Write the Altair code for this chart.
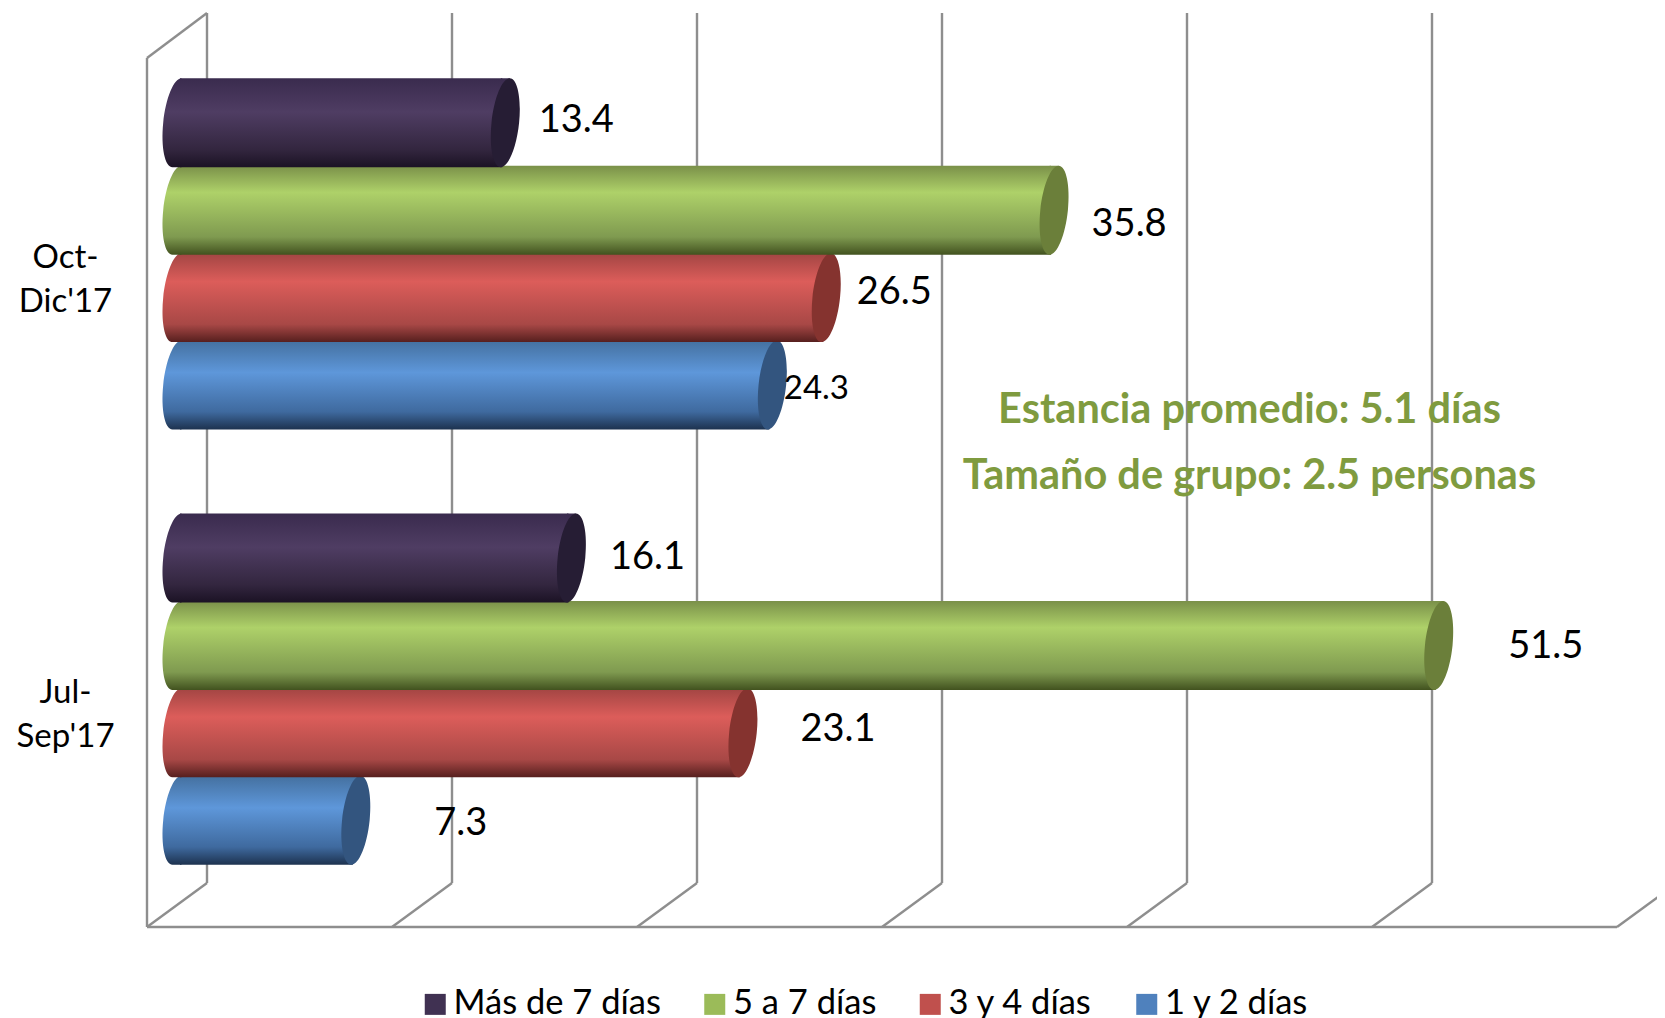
import altair as alt
import pandas as pd

PERIODS = ["Oct-Dic'17", "Jul-Sep'17"]
SERIES = ["Más de 7 días", "5 a 7 días", "3 y 4 días", "1 y 2 días"]
MAS_7 = [13.4, 16.1]
DE_5_A_7 = [35.8, 51.5]
DE_3_Y_4 = [26.5, 23.1]
DE_1_Y_2 = [24.3, 7.3]
TICKS = [0, 10, 20, 30, 40, 50, 60]
NOTES = ["Estancia promedio: 5.1 días", "Tamaño de grupo: 2.5 personas"]

LEGEND_COLORS = ["#403152", "#9bbb59", "#c0504d", "#4f81bd"]
CAP_COLORS = ["#261d34", "#6b7f3a", "#85332f", "#33557f"]
STOPS = [
    [(0, "#3a2b4e"), (0.38, "#4f3d63"), (0.8, "#33263f"), (1, "#1b1224")],
    [(0, "#7a9049"), (0.3, "#aed169"), (0.8, "#7f9a50"), (1, "#42521f")],
    [(0, "#a24543"), (0.32, "#dc5d5a"), (0.8, "#a84846"), (1, "#561f1e")],
    [(0, "#44709f"), (0.36, "#5e97da"), (0.8, "#3f6a9f"), (1, "#1d324f")],
]

# nudges of the value labels (dx, dy, font size), per period and series
LABEL_LAYOUT = {
    ("Oct-Dic'17", "Más de 7 días"): (71, -2, 38),
    ("Oct-Dic'17", "5 a 7 días"): (75, 15, 38),
    ("Oct-Dic'17", "3 y 4 días"): (68, -5, 38),
    ("Oct-Dic'17", "1 y 2 días"): (44, 4, 33),
    ("Jul-Sep'17", "Más de 7 días"): (76, 0, 38),
    ("Jul-Sep'17", "5 a 7 días"): (107, 2, 38),
    ("Jul-Sep'17", "3 y 4 días"): (95, -3, 38),
    ("Jul-Sep'17", "1 y 2 días"): (105, 4, 38),
}

FONT = "Lato"
GRID = "#8e8e8e"
BAR_H = 89
DEPTH = 30
SHEAR_PX = 4.5
SEAM_PX = 1.5

rows = []
for s, vals in zip(SERIES, [MAS_7, DE_5_A_7, DE_3_Y_4, DE_1_Y_2]):
    for p, v in zip(PERIODS, vals):
        rows.append({"period": p, "series": s, "value": v, "zero": 0})
df = pd.DataFrame(rows)
ticks_df = pd.DataFrame({"tick": TICKS})


def shape_paths():
    a, s, k = 0.31, SHEAR_PX / (BAR_H / 2), 0.5523

    def pt(u, v):
        return f"{a * u - s * v:.4f} {v:.4f}"

    ellipse = (
        f"M{pt(0, -1)}C{pt(k, -1)} {pt(1, -k)} {pt(1, 0)}"
        f"C{pt(1, k)} {pt(k, 1)} {pt(0, 1)}"
        f"C{pt(-k, 1)} {pt(-1, k)} {pt(-1, 0)}"
        f"C{pt(-1, -k)} {pt(-k, -1)} {pt(0, -1)}Z"
    )
    left = (
        f"M{pt(0, -1)}C{pt(-k, -1)} {pt(-1, -k)} {pt(-1, 0)}"
        f"C{pt(-1, k)} {pt(-k, 1)} {pt(0, 1)}"
        f"L{s:.4f} 1L{s:.4f} -1Z"
    )
    wedge = f"M{-s:.4f} -1L{s:.4f} -1L{-s:.4f} 1Z"
    return ellipse, left, wedge


ELLIPSE, LEFT_END, WEDGE = shape_paths()

PLOT_W = 1480
X_SCALE = alt.Scale(domain=[0, PLOT_W / 24.5], nice=False, zero=False)
Y_ENC = alt.Y(
    "period:N",
    sort=PERIODS,
    title=None,
    scale=alt.Scale(type="band", domain=PERIODS, paddingInner=0, paddingOuter=0.05, align=0.535),
    axis=alt.Axis(
        domain=False,
        ticks=False,
        grid=False,
        labelFont=FONT,
        labelFontSize=33,
        labelColor="#000000",
        labelAlign="center",
        labelBaseline="middle",
        labelPadding=112,
        labelOffset=4,
        labelLineHeight=44,
        labelExpr="[split(datum.label,'-')[0]+'-', split(datum.label,'-')[1]]",
    ),
)
YO_ENC = alt.YOffset(
    "series:N",
    sort=SERIES,
    scale=alt.Scale(type="band", domain=SERIES, paddingInner=0, paddingOuter=0.49),
)
X_ENC = alt.X("value:Q", scale=X_SCALE, axis=None)
X0_ENC = alt.X("zero:Q", scale=X_SCALE, axis=None)

layers = []

# the 3-D wall and floor of the frame
frame = alt.Chart(ticks_df)
rule = dict(color=GRID, strokeWidth=2.4)
TOP_FRONT, FLOOR_BACK, FLOOR_FRONT = 45, 870, 914
layers.append(
    frame.mark_rule(xOffset=DEPTH, **rule).encode(
        x=alt.X("tick:Q", scale=X_SCALE, axis=None),
        y=alt.value(0),
        y2=alt.value(FLOOR_BACK),
    )
)
layers.append(
    frame.mark_rule(xOffset=-DEPTH, x2Offset=DEPTH, **rule).encode(
        x=alt.X("tick:Q", scale=X_SCALE, axis=None),
        x2="tick:Q",
        y=alt.value(FLOOR_FRONT),
        y2=alt.value(FLOOR_BACK),
    )
)
first = frame.transform_filter(alt.datum.tick == TICKS[0])
layers.append(
    first.mark_rule(xOffset=-DEPTH, **rule).encode(
        x=alt.X("tick:Q", scale=X_SCALE, axis=None),
        y=alt.value(TOP_FRONT),
        y2=alt.value(FLOOR_FRONT),
    )
)
layers.append(
    first.mark_rule(xOffset=-DEPTH, x2Offset=DEPTH, **rule).encode(
        x=alt.X("tick:Q", scale=X_SCALE, axis=None),
        x2="tick:Q",
        y=alt.value(TOP_FRONT),
        y2=alt.value(0),
    )
)
layers.append(
    first.transform_calculate(end=str(TICKS[-1])).mark_rule(
        xOffset=-DEPTH, x2Offset=-DEPTH, **rule
    ).encode(
        x=alt.X("tick:Q", scale=X_SCALE, axis=None),
        x2="end:Q",
        y=alt.value(FLOOR_FRONT),
    )
)

base = alt.Chart(df)

# thin bars that carry the colour scale and the legend, hidden under the cylinders
layers.append(
    base.mark_bar(height=1).encode(
        x=X_ENC,
        x2="zero:Q",
        y=Y_ENC,
        yOffset=YO_ENC,
        color=alt.Color(
            "series:N",
            sort=SERIES,
            scale=alt.Scale(domain=SERIES, range=LEGEND_COLORS),
            legend=alt.Legend(
                title=None,
                orient="none",
                legendX=241,
                legendY=974,
                direction="horizontal",
                columns=4,
                symbolType="square",
                symbolSize=441,
                symbolStrokeWidth=0,
                symbolOpacity=1,
                labelFont=FONT,
                labelFontSize=34.5,
                labelColor="#000000",
                labelOffset=1,
                columnPadding=36.5,
                labelLimit=400,
            ),
        ),
    )
)

# cylinders: the lower ones first, so that the upper ones overlap them
for i in reversed(range(len(SERIES))):
    gradient = alt.LinearGradient(
        gradient="linear",
        x1=0, x2=0, y1=0, y2=1,
        stops=[alt.GradientStop(offset=o, color=c) for o, c in STOPS[i]],
    )
    sub = base.transform_filter(alt.datum.series == SERIES[i])
    layers.append(
        sub.mark_bar(
            height=BAR_H,
            color=gradient,
            xOffset=-SHEAR_PX + SEAM_PX,
            x2Offset=SHEAR_PX - SEAM_PX,
        ).encode(x=X_ENC, x2="zero:Q", y=Y_ENC, yOffset=YO_ENC)
    )
    sym = dict(filled=True, size=BAR_H ** 2, opacity=1, strokeWidth=0)
    layers.append(
        sub.mark_point(shape=LEFT_END, color=gradient, **sym).encode(
            x=X0_ENC, y=Y_ENC, yOffset=YO_ENC
        )
    )
    layers.append(
        sub.mark_point(shape=WEDGE, color=gradient, **sym).encode(
            x=X_ENC, y=Y_ENC, yOffset=YO_ENC
        )
    )
    layers.append(
        sub.mark_point(shape=ELLIPSE, color=CAP_COLORS[i], **sym).encode(
            x=X_ENC, y=Y_ENC, yOffset=YO_ENC
        )
    )

# value labels
for (p, s), (dx, dy, size) in LABEL_LAYOUT.items():
    layers.append(
        base.transform_filter((alt.datum.series == s) & (alt.datum.period == p))
        .mark_text(font=FONT, fontSize=size, color="#000000", dx=dx, dy=dy, align="center", baseline="middle")
        .encode(
            x=X_ENC,
            y=Y_ENC,
            yOffset=YO_ENC,
            text=alt.Text("value:Q", format=".1f"),
        )
    )

# annotations
for note, y in zip(NOTES, [397.5, 464]):
    layers.append(
        alt.Chart(pd.DataFrame({"note": [note]}))
        .mark_text(font=FONT, fontSize=41.5, fontWeight="bold", color="#7f9b3f", align="center", baseline="middle")
        .encode(x=alt.value(1072.5), y=alt.value(y), text="note:N")
    )

chart = (
    alt.layer(*layers)
    .properties(
        width=PLOT_W,
        height=914,
        background="#ffffff",
        autosize=alt.AutoSizeParams(type="none"),
        padding={"left": 169, "top": 5, "right": 0, "bottom": 91},
    )
    .configure_view(stroke=None)
)

chart.save("out.html", embed_options={"renderer": "svg", "actions": False})
